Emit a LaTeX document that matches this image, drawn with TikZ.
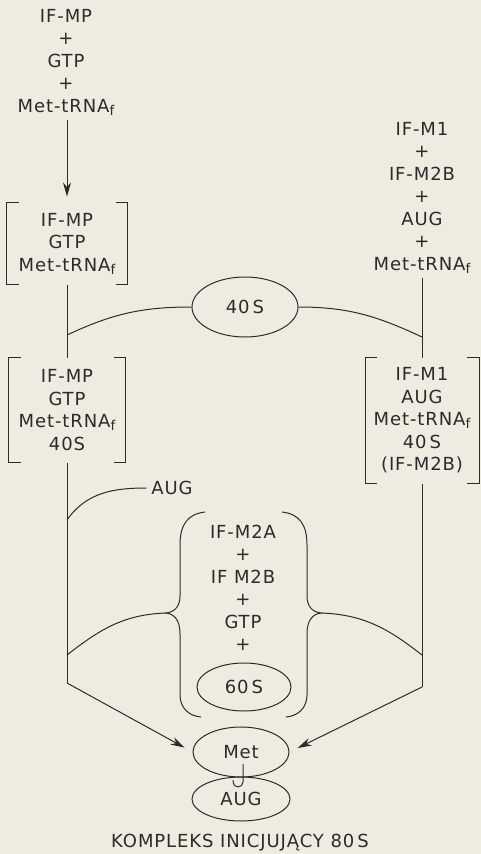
\documentclass[tikz,border=0pt]{standalone}
\usepackage{fontspec}
\setmainfont{DejaVu Sans}[LetterSpace=5]
\usepackage{tikz}
\usetikzlibrary{arrows.meta,positioning,shapes.geometric}
\definecolor{paper}{HTML}{EEEBE1}
\definecolor{ink}{HTML}{2B2B29}
\newcommand{\cplxbrackets}[1]{%
  \draw ([xshift=12pt]#1.north west) -- (#1.north west) -- (#1.south west) -- ([xshift=12pt]#1.south west);
  \draw ([xshift=-12pt]#1.north east) -- (#1.north east) -- (#1.south east) -- ([xshift=-12pt]#1.south east);}
\newcommand{\trnaf}{Met-tRNA\raisebox{-3pt}{\fontsize{13.5}{13.5}\selectfont f}}

\begin{document}
\begin{tikzpicture}[
  x=1pt,y=1pt,color=ink,line width=1pt,
  font=\fontsize{18}{22.5}\selectfont,
  txt/.style={align=center,inner sep=0pt,outer sep=5pt},
  cplx/.style={align=center,inner sep=0pt},
  ribo/.style={draw,ellipse,inner sep=0pt},
  arr/.style={-{Stealth[length=14pt,width=8pt]}}
]
\fill[paper] (0,0) rectangle (481,-854);
\useasboundingbox (0,0) rectangle (481,-854);
\node[txt] (tl) at (66,-62) {IF-MP\\+\\GTP\\+\\\trnaf};
\node[cplx,minimum width=120pt,minimum height=81pt] (br1) at (67,-243.5) {IF-MP\\GTP\\\trnaf};
\node[ribo,minimum width=106pt,minimum height=60pt] (s40) at (245,-307) {40\,S};
\node[txt] (tr) at (422,-197.5) {IF-M1\\+\\IF-M2B\\+\\AUG\\+\\\trnaf};
\node[cplx,minimum width=113pt,minimum height=125pt] (br2) at (422,-420.5) {IF-M1\\AUG\\\trnaf\\40\,S\\(IF-M2B)};
\node[cplx,minimum width=116pt,minimum height=104pt] (br3) at (67,-410) {IF-MP\\GTP\\\trnaf\\40S};
\node[txt] (aug) at (172,-488) {AUG};
\node[txt] (mix) at (243,-588) {IF-M2A\\+\\IF M2B\\+\\GTP\\+};
\node[ribo,minimum width=94pt,minimum height=48pt] (s60) at (244,-687) {60\,S};
\node[ribo,minimum width=96pt,minimum height=50pt] (met) at (241,-752) {Met};
\node[ribo,minimum width=98pt,minimum height=44pt] (codon) at (241,-799) {AUG};
\node[txt] (title) at (240,-843) {KOMPLEKS INICJUJĄCY 80\,S};
\cplxbrackets{br1}
\cplxbrackets{br2}
\cplxbrackets{br3}
\coordinate (j1) at (67,-335);
\coordinate (j2) at (422,-337);
\coordinate (j3) at (67,-520);
\coordinate (j4) at (67,-655);
\coordinate (j5) at (422,-655);
\coordinate (l1) at (67,-683);
\coordinate (r1) at (422,-687);
\coordinate (lb) at (166,-613);
\coordinate (rb) at (321,-613);
\draw[arr,shorten >=6pt] (tl.south -| br1) -- (br1);
\draw (br1) -- (br3);
\draw (tr) -- (br2);
\draw (s40.west) to[out=180,in=25] (j1);
\draw (s40.east) to[out=0,in=155] (j2);
\draw (br3) -- (l1);
\draw (br2) -- (r1);
\draw (aug.west) to[out=180,in=55] (j3);
% braces round the 60S mixture
\draw (205,-512) .. controls (188,-514) and (180,-524) .. (180,-545) -- (180,-596) .. controls (180,-606) and (175,-612) .. (lb) .. controls (175,-614) and (180,-621) .. (180,-634) -- (180,-695) .. controls (180,-708) and (189,-716) .. (201,-717);
\draw (282,-512) .. controls (299,-514) and (307,-524) .. (307,-545) -- (307,-596) .. controls (307,-606) and (312,-612) .. (rb) .. controls (312,-614) and (307,-621) .. (307,-634) -- (307,-695) .. controls (307,-708) and (298,-716) .. (286,-717);
\draw (lb) to[out=182,in=38] (j4);
\draw (rb) to[out=-2,in=142] (j5);
\draw[arr,shorten >=9pt] (l1) -- (met.west);
\draw[arr,shorten >=9pt] (r1) -- (met.east);
\draw ([xshift=2pt,yshift=-12pt]met.center) -- ++(0,-18) arc[start angle=0,end angle=-180,radius=5pt] -- ++(0,2);
\end{tikzpicture}
\end{document}
